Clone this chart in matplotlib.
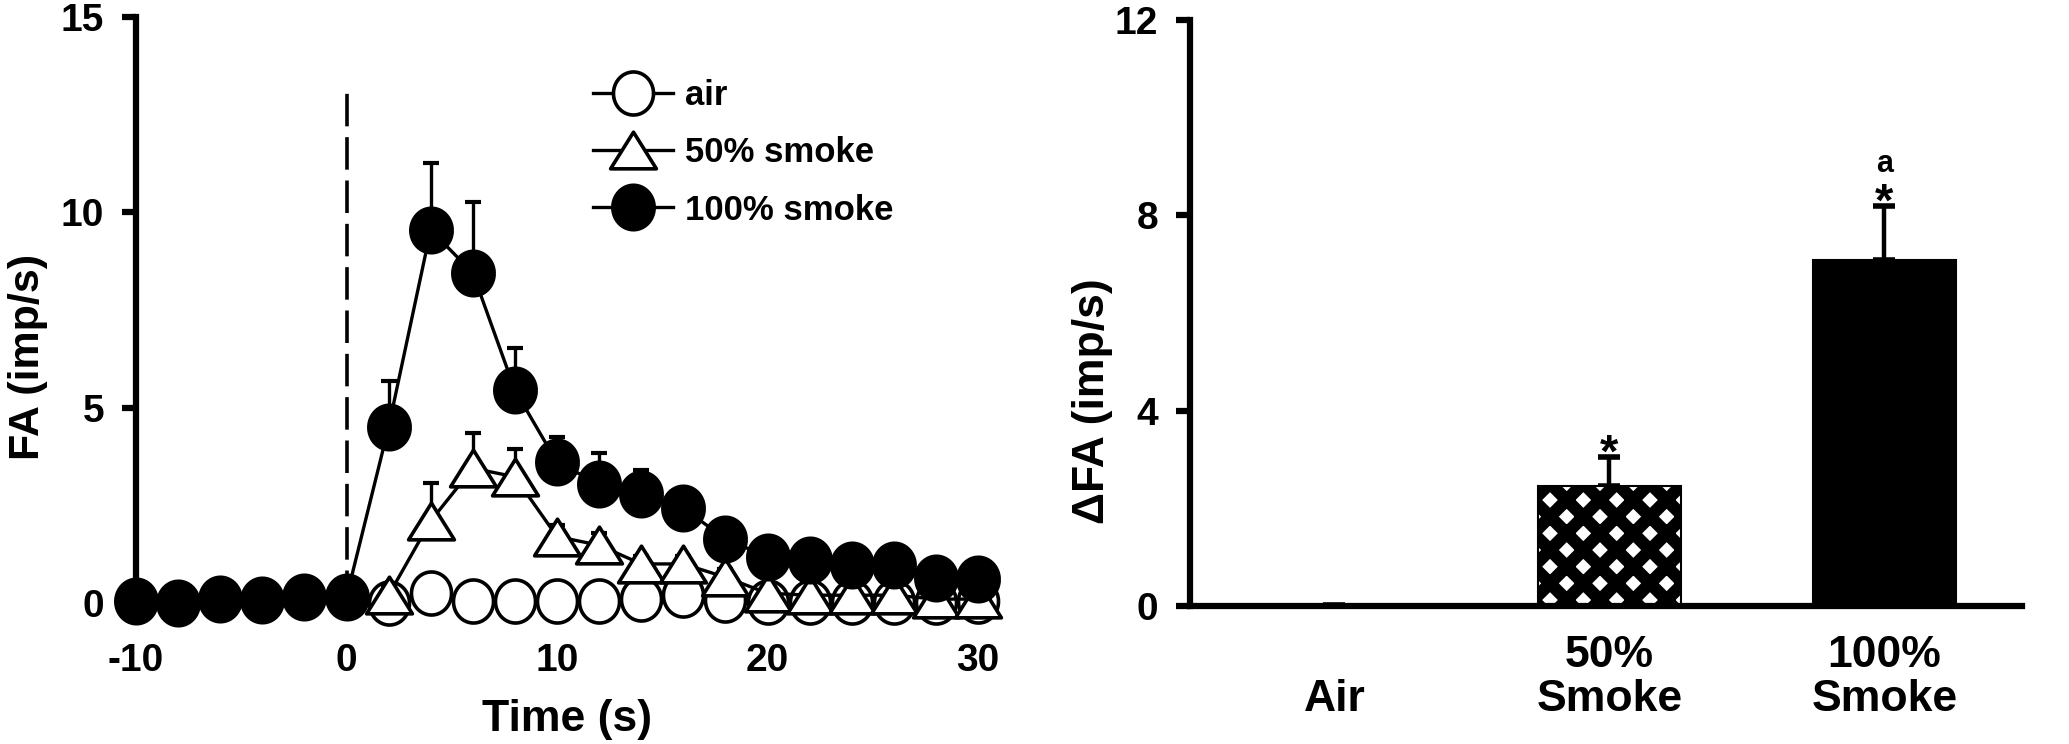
import numpy as np
import matplotlib
matplotlib.use("Agg")
import matplotlib.pyplot as plt
from matplotlib.path import Path

plt.rcParams['font.family'] = ['Liberation Sans', 'DejaVu Sans']
plt.rcParams['font.weight'] = 'bold'
plt.rcParams['axes.unicode_minus'] = False
plt.rcParams['hatch.linewidth'] = 9.0

nan = np.nan

# ---- time course data (left panel) ----
# air / 50% points up to t=0 are hidden under the 100% symbols in the original
time = [-10, -8, -6, -4, -2, 0, 2, 4, 6, 8, 10, 12, 14, 16, 18, 20, 22, 24, 26, 28, 30]
air = [nan, nan, nan, nan, nan, nan, 0.0, 0.25, 0.06, 0.05, 0.04, 0.05, 0.1, 0.2, 0.08,
       0.02, 0.02, 0.02, 0.02, 0.03, 0.05]
smoke50 = [nan, nan, nan, nan, nan, nan, 0.2, 2.1, 3.45, 3.23, 1.7, 1.48, 1.0, 1.0, 0.66,
           0.25, 0.2, 0.2, 0.2, 0.1, 0.1]
smoke50_err = [0, 0, 0, 0, 0, 0, 0.2, 0.97, 0.9, 0.72, 0.3, 0.3, 0.2, 0.2, 0.2,
               0.1, 0.1, 0.1, 0.1, 0.1, 0.1]
smoke100 = [0.05, 0.0, 0.1, 0.07, 0.15, 0.15, 4.5, 9.55, 8.45, 5.45, 3.6, 3.05, 2.79, 2.43, 1.64,
            1.18, 1.1, 0.98, 0.98, 0.64, 0.62]
smoke100_err = [0.1, 0.1, 0.1, 0.1, 0.1, 0.1, 1.17, 1.72, 1.82, 1.07, 0.66, 0.8, 0.62, 0.3, 0.3,
                0.2, 0.2, 0.2, 0.2, 0.2, 0.2]

# ---- summary data (right panel) ----
groups = ["\nAir", "50%\nSmoke", "100%\nSmoke"]
delta_fa = [0.0, 2.46, 7.08]
delta_err = [0.03, 0.6, 1.11]
marks = ["", "*", "*"]

fig = plt.figure(figsize=(20.69, 7.44), dpi=100)

# slightly tall ellipse and wide triangle, like the original symbols
th = np.linspace(0, 2 * np.pi, 60)
ellipse = Path(np.column_stack([0.93 * np.cos(th), np.sin(th)]))
tri = Path([(0, 1), (-1.25, -1), (1.25, -1), (0, 1)],
           [Path.MOVETO, Path.LINETO, Path.LINETO, Path.CLOSEPOLY])

# ------------- left panel -------------
ax = fig.add_axes([136 / 2069, 1 - 603 / 744, 842 / 2069, 586 / 744])
ax.plot([0, 0], [0, 13.07], color='black', lw=2.6, dashes=(9, 3), zorder=1)

series = [
    (air, None, ellipse, 'white', 'air', 31),
    (smoke50, smoke50_err, tri, 'white', '50% smoke', 33),
    (smoke100, smoke100_err, ellipse, 'black', '100% smoke', 32),
]
z = 2
for vals, err, mk, fc, lab, ms in series:
    if err is not None:
        ax.errorbar(time, vals, yerr=[np.zeros(len(err)), err], fmt='none', ecolor='black',
                    elinewidth=2.4, capsize=6, capthick=3, zorder=z, clip_on=False)
    ax.plot(time, vals, color='black', lw=2.4, marker=mk, markersize=ms, markerfacecolor=fc,
            markeredgecolor='black', markeredgewidth=2.6, label=lab, zorder=z + 1, clip_on=False)
    z += 2

ax.set_xlim(-10, 30)
ax.set_ylim(0, 15)
ax.set_yticks([0, 5, 10, 15])
ax.set_xticks([-10, 0, 10, 20, 30])
for s in ['top', 'right', 'bottom']:
    ax.spines[s].set_visible(False)
ax.spines['left'].set_linewidth(4.5)
ax.tick_params(axis='y', length=10, width=4.5, pad=13, labelsize=28)
ax.tick_params(axis='x', length=0, pad=29, labelsize=28)
ax.set_xlabel('Time (s)', fontsize=32, fontweight='bold')
ax.xaxis.set_label_coords(0.512, -0.163)
ax.set_ylabel('FA (imp/s)', fontsize=31, fontweight='bold')
ax.yaxis.set_label_coords(-0.105, 0.42)

ax.legend(loc='upper left', bbox_to_anchor=(593 / 2069, 1 - 79 / 744), bbox_transform=fig.transFigure,
          frameon=False, handlelength=2.3, handletextpad=0.35, labelspacing=0.7,
          borderpad=0, borderaxespad=0, numpoints=1, prop={'weight': 'bold', 'size': 25})

# ------------- right panel -------------
bx = fig.add_axes([1190 / 2069, 1 - 606 / 744, 832 / 2069, 586 / 744])
pos = np.arange(len(groups))
colors = ['white', 'white', 'black']
hatches = [None, 'x', None]
for i in pos:
    bx.bar(pos[i], delta_fa[i], width=0.52, color=colors[i], edgecolor='black',
           linewidth=0 if i == 0 else 1.5, hatch=hatches[i], zorder=2)
    bx.errorbar(pos[i], delta_fa[i], yerr=[[0], [delta_err[i]]], fmt='none', ecolor='black',
                elinewidth=3.2, capsize=8, capthick=4, zorder=1)
    if marks[i]:
        bx.text(pos[i], delta_fa[i] + delta_err[i] - 0.2, marks[i], ha='center', va='baseline',
                fontsize=34, fontweight='bold')
bx.text(pos[2], 8.88, 'a', ha='center', va='baseline', fontsize=22, fontweight='bold')

bx.set_xlim(-0.525, 2.5)
bx.set_ylim(0, 12)
bx.set_yticks([0, 4, 8, 12])
bx.set_xticks(pos)
bx.set_xticklabels(groups, linespacing=1.1)
for s in ['top', 'right']:
    bx.spines[s].set_visible(False)
bx.spines['left'].set_linewidth(4.5)
bx.spines['bottom'].set_linewidth(4.5)
bx.tick_params(axis='y', length=10, width=4.5, pad=13, labelsize=28)
bx.tick_params(axis='x', length=0, pad=21, labelsize=32)
bx.set_ylabel('\u0394FA (imp/s)', fontsize=32, fontweight='bold')
bx.yaxis.set_label_coords(-0.093, 0.35)

fig.savefig('out.png', dpi=100, facecolor='white')
